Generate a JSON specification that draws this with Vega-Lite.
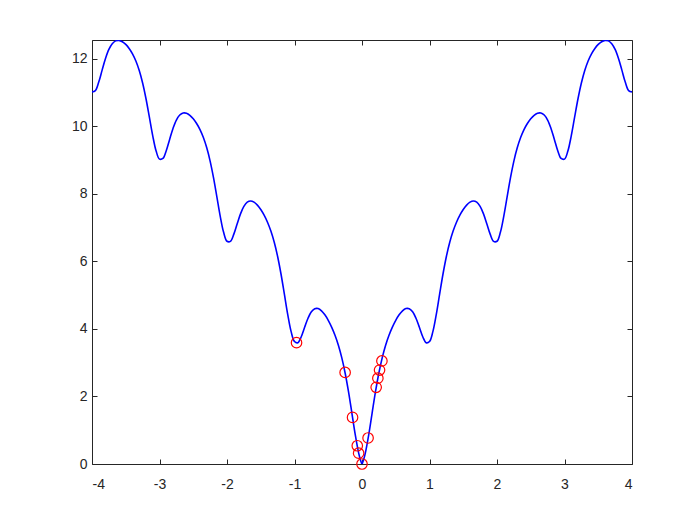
{
  "$schema": "https://vega.github.io/schema/vega-lite/v6.json",
  "width": 540,
  "height": 424,
  "autosize": {"type": "none"},
  "padding": {"left": 92, "top": 40, "right": 68, "bottom": 61},
  "background": "white",
  "config": {
    "view": {"stroke": "#262626", "strokeWidth": 1},
    "axis": {
      "grid": false,
      "domain": false,
      "tickColor": "#262626",
      "tickSize": -5,
      "tickWidth": 1,
      "labelColor": "#262626",
      "labelFont": "Liberation Sans",
      "labelFontSize": 14,
      "labelExpr": "toString(datum.value)",
      "title": null
    }
  },
  "datasets": {
    "curve": [
      {"x":-4,"y":11.0134},{"x":-3.95,"y":11.0529},{"x":-3.9,"y":11.3045},{"x":-3.85,"y":11.658},{"x":-3.8,"y":12.0029},{"x":-3.75,"y":12.271},{"x":-3.7,"y":12.4418},{"x":-3.65,"y":12.5245},{"x":-3.6,"y":12.538},{"x":-3.55,"y":12.4991},{"x":-3.5,"y":12.4187},{"x":-3.45,"y":12.3004},{"x":-3.4,"y":12.1407},{"x":-3.35,"y":11.9285},{"x":-3.3,"y":11.6471},{"x":-3.25,"y":11.2774},{"x":-3.2,"y":10.8104},{"x":-3.15,"y":10.2665},{"x":-3.1,"y":9.7137},{"x":-3.05,"y":9.2628},{"x":-3,"y":9.0239},
      {"x":-2.95,"y":9.0433},{"x":-2.9,"y":9.2746},{"x":-2.85,"y":9.6078},{"x":-2.8,"y":9.932},{"x":-2.75,"y":10.1793},{"x":-2.7,"y":10.3291},{"x":-2.65,"y":10.3906},{"x":-2.6,"y":10.3826},{"x":-2.55,"y":10.3221},{"x":-2.5,"y":10.2198},{"x":-2.45,"y":10.0794},{"x":-2.4,"y":9.8973},{"x":-2.35,"y":9.6627},{"x":-2.3,"y":9.3584},{"x":-2.25,"y":8.9657},{"x":-2.2,"y":8.4755},{"x":-2.15,"y":7.9081},{"x":-2.1,"y":7.3317},{"x":-2.05,"y":6.8568},{"x":-2,"y":6.5936},
      {"x":-1.95,"y":6.5887},{"x":-1.9,"y":6.7954},{"x":-1.85,"y":7.1036},{"x":-1.8,"y":7.4027},{"x":-1.75,"y":7.6245},{"x":-1.7,"y":7.7487},{"x":-1.65,"y":7.7842},{"x":-1.6,"y":7.75},{"x":-1.55,"y":7.6631},{"x":-1.5,"y":7.534},{"x":-1.45,"y":7.3667},{"x":-1.4,"y":7.1573},{"x":-1.35,"y":6.8951},{"x":-1.3,"y":6.5631},{"x":-1.25,"y":6.1423},{"x":-1.2,"y":5.6236},{"x":-1.15,"y":5.0276},{"x":-1.1,"y":4.4222},{"x":-1.05,"y":3.9181},{"x":-1,"y":3.6254},
      {"x":-0.95,"y":3.5906},{"x":-0.9,"y":3.7672},{"x":-0.85,"y":4.045},{"x":-0.8,"y":4.3133},{"x":-0.75,"y":4.5041},{"x":-0.7,"y":4.5969},{"x":-0.65,"y":4.6008},{"x":-0.6,"y":4.5346},{"x":-0.55,"y":4.4153},{"x":-0.5,"y":4.2537},{"x":-0.45,"y":4.0534},{"x":-0.4,"y":3.8107},{"x":-0.35,"y":3.5148},{"x":-0.3,"y":3.1488},{"x":-0.25,"y":2.6937},{"x":-0.2,"y":2.1404},{"x":-0.15,"y":1.5094},{"x":-0.1,"y":0.8686},{"x":-0.05,"y":0.3288},{"x":-0.025,"y":0.1331},{"x":-0.01,"y":0.0453},
      {"x":0,"y":0},
      {"x":0.01,"y":0.0453},{"x":0.025,"y":0.1331},{"x":0.05,"y":0.3288},{"x":0.1,"y":0.8686},{"x":0.15,"y":1.5094},{"x":0.2,"y":2.1404},{"x":0.25,"y":2.6937},{"x":0.3,"y":3.1488},{"x":0.35,"y":3.5148},{"x":0.4,"y":3.8107},{"x":0.45,"y":4.0534},{"x":0.5,"y":4.2537},{"x":0.55,"y":4.4153},{"x":0.6,"y":4.5346},{"x":0.65,"y":4.6008},{"x":0.7,"y":4.5969},{"x":0.75,"y":4.5041},{"x":0.8,"y":4.3133},{"x":0.85,"y":4.045},{"x":0.9,"y":3.7672},{"x":0.95,"y":3.5906},
      {"x":1,"y":3.6254},{"x":1.05,"y":3.9181},{"x":1.1,"y":4.4222},{"x":1.15,"y":5.0276},{"x":1.2,"y":5.6236},{"x":1.25,"y":6.1423},{"x":1.3,"y":6.5631},{"x":1.35,"y":6.8951},{"x":1.4,"y":7.1573},{"x":1.45,"y":7.3667},{"x":1.5,"y":7.534},{"x":1.55,"y":7.6631},{"x":1.6,"y":7.75},{"x":1.65,"y":7.7842},{"x":1.7,"y":7.7487},{"x":1.75,"y":7.6245},{"x":1.8,"y":7.4027},{"x":1.85,"y":7.1036},{"x":1.9,"y":6.7954},{"x":1.95,"y":6.5887},
      {"x":2,"y":6.5936},{"x":2.05,"y":6.8568},{"x":2.1,"y":7.3317},{"x":2.15,"y":7.9081},{"x":2.2,"y":8.4755},{"x":2.25,"y":8.9657},{"x":2.3,"y":9.3584},{"x":2.35,"y":9.6627},{"x":2.4,"y":9.8973},{"x":2.45,"y":10.0794},{"x":2.5,"y":10.2198},{"x":2.55,"y":10.3221},{"x":2.6,"y":10.3826},{"x":2.65,"y":10.3906},{"x":2.7,"y":10.3291},{"x":2.75,"y":10.1793},{"x":2.8,"y":9.932},{"x":2.85,"y":9.6078},{"x":2.9,"y":9.2746},{"x":2.95,"y":9.0433},
      {"x":3,"y":9.0239},{"x":3.05,"y":9.2628},{"x":3.1,"y":9.7137},{"x":3.15,"y":10.2665},{"x":3.2,"y":10.8104},{"x":3.25,"y":11.2774},{"x":3.3,"y":11.6471},{"x":3.35,"y":11.9285},{"x":3.4,"y":12.1407},{"x":3.45,"y":12.3004},{"x":3.5,"y":12.4187},{"x":3.55,"y":12.4991},{"x":3.6,"y":12.538},{"x":3.65,"y":12.5245},{"x":3.7,"y":12.4418},{"x":3.75,"y":12.271},{"x":3.8,"y":12.0029},{"x":3.85,"y":11.658},{"x":3.9,"y":11.3045},{"x":3.95,"y":11.0529},{"x":4,"y":11.0134}
    ],
    "samples": [
      {"x":-0.97,"y":3.59},{"x":-0.25,"y":2.71},{"x":-0.14,"y":1.38},{"x":-0.07,"y":0.54},{"x":-0.05,"y":0.32},{"x":0,"y":0},{"x":0.09,"y":0.77},{"x":0.21,"y":2.27},{"x":0.235,"y":2.54},{"x":0.26,"y":2.78},{"x":0.295,"y":3.05}
    ]
  },
  "layer": [
    {
      "data": {"name": "curve"},
      "mark": {"type": "line", "color": "#0000ff", "strokeWidth": 1.6, "interpolate": "catmull-rom", "clip": true},
      "encoding": {
        "x": {"field": "x", "type": "quantitative", "scale": {"domain": [-4, 4], "nice": false, "zero": false},
              "axis": {"orient": "bottom", "values": [-4,-3,-2,-1,0,1,2,3,4], "labelPadding": 18}},
        "y": {"field": "y", "type": "quantitative", "scale": {"domain": [0, 12.55], "nice": false},
              "axis": {"orient": "left", "values": [0,2,4,6,8,10,12], "labelPadding": 10}}
      }
    },
    {
      "data": {"name": "samples"},
      "mark": {"type": "point", "shape": "circle", "filled": false, "color": "#ff0000", "size": 110, "strokeWidth": 1.2, "opacity": 1},
      "encoding": {
        "x": {"field": "x", "type": "quantitative",
              "axis": {"orient": "top", "values": [-4,-3,-2,-1,0,1,2,3,4], "labels": false}},
        "y": {"field": "y", "type": "quantitative",
              "axis": {"orient": "right", "values": [0,2,4,6,8,10,12], "labels": false}}
      }
    }
  ],
  "resolve": {"axis": {"x": "independent", "y": "independent"}}
}
